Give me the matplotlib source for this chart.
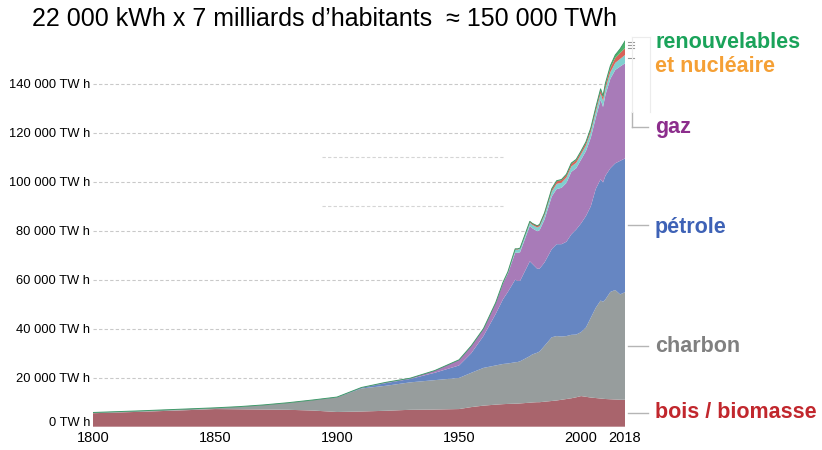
import numpy as np
import matplotlib
matplotlib.use('Agg')
from matplotlib import pyplot as plt
from matplotlib.lines import Line2D
from matplotlib.transforms import ScaledTranslation

plt.rcParams['font.family'] = ['Liberation Sans', 'DejaVu Sans']

# data (TWh per year)
years = [1800, 1820, 1840, 1850, 1860, 1870, 1880, 1890, 1900, 1910, 1920, 1930, 1940,
         1950, 1955, 1960, 1965, 1968, 1970, 1973, 1974, 1975, 1979, 1980, 1982, 1983,
         1985, 1988, 1990, 1992, 1994, 1996, 1998, 2000, 2002, 2004, 2006, 2008, 2009,
         2010, 2012, 2014, 2016, 2018]
biomasse = [5500, 6100, 6800, 7200, 7100, 7000, 6900, 6600, 6000, 6200, 6500, 6900, 7000,
            7200, 8000, 8600, 9000, 9200, 9300, 9400, 9400, 9500, 9800, 9900, 10000, 10000,
            10200, 10500, 10700, 11000, 11300, 11600, 12000, 12500, 12200, 11900, 11700,
            11500, 11400, 11300, 11200, 11100, 11000, 11000]
charbon = [300, 400, 500, 500, 1100, 1900, 2900, 4300, 6000, 9400, 10200, 11200, 12000,
           12700, 14000, 15400, 16000, 16400, 16500, 16900, 17000, 17200, 19000, 19600,
           20200, 20700, 22800, 26000, 26300, 25800, 25700, 25900, 25600, 26100, 28300,
           32600, 36800, 40000, 39600, 40700, 43800, 44700, 43000, 43900]
petrole = [0, 0, 0, 0, 0, 0, 0, 0, 100, 300, 1100, 1400, 3000, 5100, 8000, 13000, 21000,
           26400, 29200, 33700, 33100, 32800, 38700, 37000, 34300, 33800, 34000, 36000,
           37500, 37700, 38500, 41000, 42900, 44400, 45500, 45500, 48500, 49500, 48700,
           50500, 50500, 51700, 54500, 54600]
gaz = [0, 0, 0, 0, 0, 0, 0, 0, 0, 100, 300, 300, 900, 2300, 3000, 3000, 4500, 6500, 7500,
       11000, 11500, 11700, 14500, 14500, 15300, 15700, 17500, 21500, 22500, 23000, 24000,
       25500, 25000, 26000, 26500, 28000, 29000, 32500, 30800, 33000, 36500, 38100, 38500,
       38800]
nucleaire = [0] * 16 + [100, 300, 500, 1300, 1300, 1400, 1300, 1400, 1500, 1600, 1800,
                        2000, 2100, 2100, 2200, 2200, 2200, 2200, 2300, 2400, 2500, 2500,
                        2500, 2600, 2700, 2900, 3100, 3400]
hydro = [0] * 16 + [0, 100, 200, 300, 300, 300, 500, 600, 700, 700, 800, 1000, 1100, 1100,
                    1100, 1100, 1100, 1100, 1150, 1200, 1300, 1400, 1450, 1500, 1700, 2000,
                    2400, 2800]
renouv = [0] * 22 + [0, 0, 0, 50, 100, 150, 200, 200, 250, 300, 300, 250, 300, 350, 400,
                     500, 550, 650, 900, 1200, 1700, 2900]

colors = ['#a9646c', '#979d9d', '#6686c2', '#a87bb8', '#80cfcf', '#d9625a', '#4db36b']
grid_levels = [20000, 40000, 60000, 80000, 100000, 120000, 140000]
x_ticks = [1800, 1850, 1900, 1950, 2000, 2018]

W, H = 822, 450
fig = plt.figure(figsize=(W / 100, H / 100), dpi=100)
ax = fig.add_axes([93 / W, 23.3 / H, 532 / W, 392 / H])

for g in grid_levels:
    ax.axhline(g, color='#c9c9c9', lw=0.8, ls=(0, (3, 2)), zorder=0)
# stray partial guide lines in the original
for g in [90000, 110000]:
    ax.hlines(g, 1894, 1968, color='#d5d5d5', lw=0.8, ls=(0, (3, 2)), zorder=0)

layers = [biomasse, charbon, petrole, gaz, nucleaire, hydro, renouv]
ax.stackplot(years, *layers, colors=colors, lw=0, zorder=2)
total = np.sum(np.array(layers), axis=0)
ax.plot(years, total, color='#3f9a6a', lw=0.7, zorder=3)

ax.set_xlim(1800, 2018)
ax.set_ylim(0, 160000)
ax.set_xticks(x_ticks)
ax.set_xticklabels([str(t) for t in x_ticks], fontsize=10.5)
ax.set_yticks([0] + grid_levels)
ax.set_yticklabels([f"{v:,} TW h".replace(',', ' ') for v in [0] + grid_levels], fontsize=9.3)
ax.tick_params(length=0, pad=2)
ax.tick_params(axis='x', pad=3)
for s in ax.spines.values():
    s.set_visible(False)
# the "0 TW h" label sits a little above the baseline in the original
lab0 = ax.get_yticklabels()[0]
lab0.set_transform(lab0.get_transform() + ScaledTranslation(0, 5 / 100, fig.dpi_scale_trans))

fig.text(324 / W, 1 - 19 / H, "22 000 kWh x 7 milliards d\u2019habitants  \u2248 150 000 TWh",
         fontsize=18, ha='center', va='center')

labels = [("renouvelables", 43, '#1aa35a'), ("et nucléaire", 67, '#f5a035'),
          ("gaz", 128, '#8c2d8c'), ("pétrole", 227, '#3e62b6'),
          ("charbon", 347, '#808080'), ("bois / biomasse", 413, '#c1272d')]
for txt, y, c in labels:
    fig.text(655 / W, 1 - y / H, txt, fontsize=15.5, fontweight='bold', color=c,
             ha='left', va='center')


def seg(x0, y0, x1, y1, c='#b5b5b5', lw=1.0):
    fig.add_artist(Line2D([x0 / W, x1 / W], [1 - y0 / H, 1 - y1 / H], color=c, lw=lw,
                          transform=fig.transFigure))


# leader lines
seg(628, 225, 648, 225)
seg(628, 346, 648, 346)
seg(628, 413, 648, 413)
seg(632, 112, 632, 127)
seg(632, 127, 648, 127)
for y in [42, 45, 48, 58]:
    seg(628, y, 634, y, c='#9a9a9a', lw=0.8)
seg(632, 37, 632, 112, c='#ececec', lw=0.8)
seg(650, 37, 650, 112, c='#ececec', lw=0.8)
seg(632, 37, 650, 37, c='#ececec', lw=0.8)

fig.savefig('out.png', dpi=100)
